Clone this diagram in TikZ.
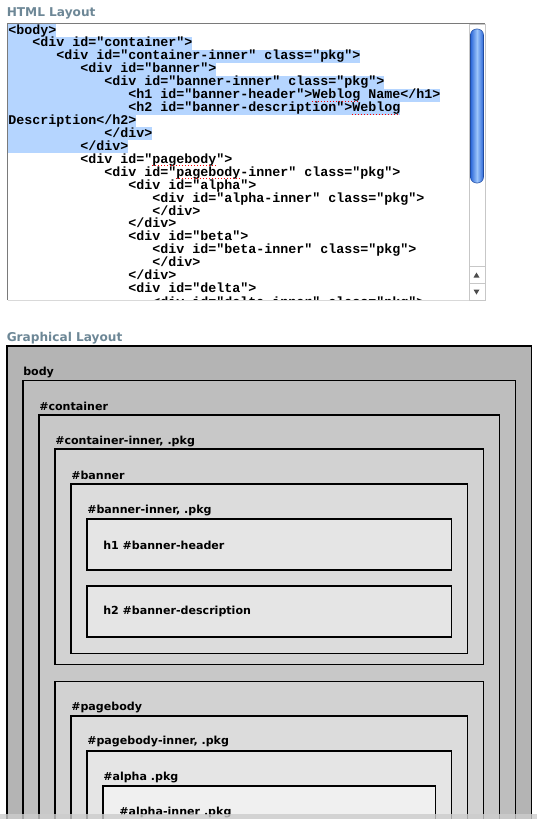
\documentclass[tikz,border=0pt]{standalone}
\usepackage{fontspec}
\setmainfont{DejaVu Sans}
\setmonofont{Liberation Mono}
\definecolor{ctitle}{HTML}{6D8796}
\definecolor{csel}{HTML}{B5D5FF}
\definecolor{cframe}{HTML}{7A7A7A}
\definecolor{cthumb}{HTML}{2A66D8}
\definecolor{cthumblite}{HTML}{9CC4FA}
\definecolor{cshade0}{HTML}{B4B4B4}
\definecolor{cshade1}{HTML}{BEBEBE}
\definecolor{cshade2}{HTML}{C8C8C8}
\definecolor{cshade3}{HTML}{D2D2D2}
\definecolor{cshade4}{HTML}{DCDCDC}
\definecolor{cshade5}{HTML}{E5E5E5}
\definecolor{cshade6}{HTML}{F0F0F0}
\tikzset{
  every picture/.style={x=0.75pt, y=-0.75pt},
  title/.style={font=\bfseries\fontsize{9.1}{11}\selectfont, text=ctitle, anchor=base west, inner sep=0pt},
  code/.style={font=\ttfamily\bfseries\fontsize{10}{12}\selectfont, anchor=base west, inner sep=0pt},
  sel/.style={fill=csel, draw=none},
  typo/.style={draw=red, line width=0.8pt, dash pattern=on 0.75pt off 1.5pt},
  layer/.style={draw=black, line width=1pt, fill=#1},
  lbl/.style={font=\bfseries\fontsize{8.3}{10}\selectfont, anchor=base west, inner sep=0pt},
}

\begin{document}
\begin{tikzpicture}
  \useasboundingbox (0,0) rectangle (537,819);
  \clip (0,0) rectangle (537,819);
  % html layout
  \node[title] (htmltitle) at (6.5,16.7) {HTML Layout};
  \begin{scope}
    \clip (8,24) rectangle (468.5,299.5);
    \fill[sel] (8,24.0) rectangle (56,36.9);
    \fill[sel] (8,36.9) rectangle (192,49.9);
    \fill[sel] (8,49.9) rectangle (360,62.8);
    \fill[sel] (8,62.8) rectangle (216,75.7);
    \fill[sel] (8,75.7) rectangle (384,88.7);
    \fill[sel] (8,88.7) rectangle (440,101.6);
    \fill[sel] (8,101.6) rectangle (400,114.5);
    \fill[sel] (8,114.5) rectangle (136,127.4);
    \fill[sel] (8,127.4) rectangle (152,140.4);
    \fill[sel] (8,140.4) rectangle (128,153.3);
    \node[code] (c0) at (8,34.0) {<body>};
    \node[code] (c1) at (32,46.9) {<div id="container">};
    \node[code] (c2) at (56,59.9) {<div id="container-inner" class="pkg">};
    \node[code] (c3) at (80,72.8) {<div id="banner">};
    \node[code] (c4) at (104,85.7) {<div id="banner-inner" class="pkg">};
    \node[code] (c5) at (128,98.7) {<h1 id="banner-header">Weblog Name</h1>};
    \node[code] (c6) at (128,111.6) {<h2 id="banner-description">Weblog};
    \node[code] (c7) at (8,124.5) {Description</h2>};
    \node[code] (c8) at (104,137.4) {</div>};
    \node[code] (c9) at (80,150.4) {</div>};
    \node[code] (c10) at (80,163.3) {<div id="pagebody">};
    \node[code] (c11) at (104,176.2) {<div id="pagebody-inner" class="pkg">};
    \node[code] (c12) at (128,189.2) {<div id="alpha">};
    \node[code] (c13) at (152,202.1) {<div id="alpha-inner" class="pkg">};
    \node[code] (c14) at (152,215.0) {</div>};
    \node[code] (c15) at (128,227.9) {</div>};
    \node[code] (c16) at (128,240.9) {<div id="beta">};
    \node[code] (c17) at (152,253.8) {<div id="beta-inner" class="pkg">};
    \node[code] (c18) at (152,266.7) {</div>};
    \node[code] (c19) at (128,279.7) {</div>};
    \node[code] (c20) at (128,292.6) {<div id="delta">};
    \node[code] (c21) at (152,306.5) {<div id="delta-inner" class="pkg">};
    % spelling marks
    \draw[typo] (312,101.2) -- (360,101.2);
    \draw[typo] (352,114.1) -- (400,114.1);
    \draw[typo] (152,165.8) -- (216,165.8);
    \draw[typo] (176,178.7) -- (240,178.7);
  \end{scope}
  \draw[cframe, line width=1pt] (7.5,300) -- (7.5,23.5) -- (485,23.5);
  \draw[black!15] (7.5,300.5) -- (469,300.5);
  % scrollbar
  \draw[black!22, fill=white] (469,24) rectangle (485,300);
  \draw[cthumb!75!black, left color=cthumb, right color=cthumb, middle color=cthumblite, rounded corners=4.5pt] (470.5,29) rectangle (483.5,183);
  \draw[black!22] (469,266) -- (485,266);
  \draw[black!22] (469,283.3) -- (485,283.3);
  \fill[black!70] (476.5,272.5) -- (479.5,277.5) -- (473.5,277.5) -- cycle;
  \fill[black!70] (473.5,289.5) -- (479.5,289.5) -- (476.5,294.5) -- cycle;
  % graphical layout
  \node[title] (graphtitle) at (6.5,341.2) {Graphical Layout};
  \draw[layer=cshade0] (7,346) rectangle (531.5,830);
  \node[lbl] (lbody) at (23,375.5) {body};
  \draw[layer=cshade1] (23,380.5) rectangle (515.5,830);
  \node[lbl] (lcontainer) at (39,410) {\#container};
  \draw[layer=cshade2] (39,415) rectangle (499.5,830);
  \node[lbl] (lcinner) at (55,444.5) {\#container-inner, .pkg};
  \draw[layer=cshade3] (55,449) rectangle (483.5,664.5);
  \node[lbl] (lbanner) at (71,479) {\#banner};
  \draw[layer=cshade4] (71,484) rectangle (467.5,653.5);
  \node[lbl] (lbinner) at (87,513.5) {\#banner-inner, .pkg};
  \draw[layer=cshade5] (87,519) rectangle (451.5,570);
  \node[lbl] (lheader) at (103,549.5) {h1 \#banner-header};
  \draw[layer=cshade5] (87,586) rectangle (451.5,637);
  \node[lbl] (ldesc) at (103,614.7) {h2 \#banner-description};
  \draw[layer=cshade3] (55,681.5) rectangle (483.5,830);
  \node[lbl] (lpagebody) at (71,710) {\#pagebody};
  \draw[layer=cshade4] (71,716) rectangle (467.5,830);
  \node[lbl] (lpinner) at (87,744.5) {\#pagebody-inner, .pkg};
  \draw[layer=cshade5] (87,751) rectangle (451.5,830);
  \node[lbl] (lalpha) at (103,780) {\#alpha .pkg};
  \draw[layer=cshade6] (103,786) rectangle (435.5,830);
  \node[lbl] (lainner) at (119,815) {\#alpha-inner .pkg};
  % bottom strip
  \fill[black!20, opacity=0.8] (0,814) rectangle (537,819);
\end{tikzpicture}
\end{document}
